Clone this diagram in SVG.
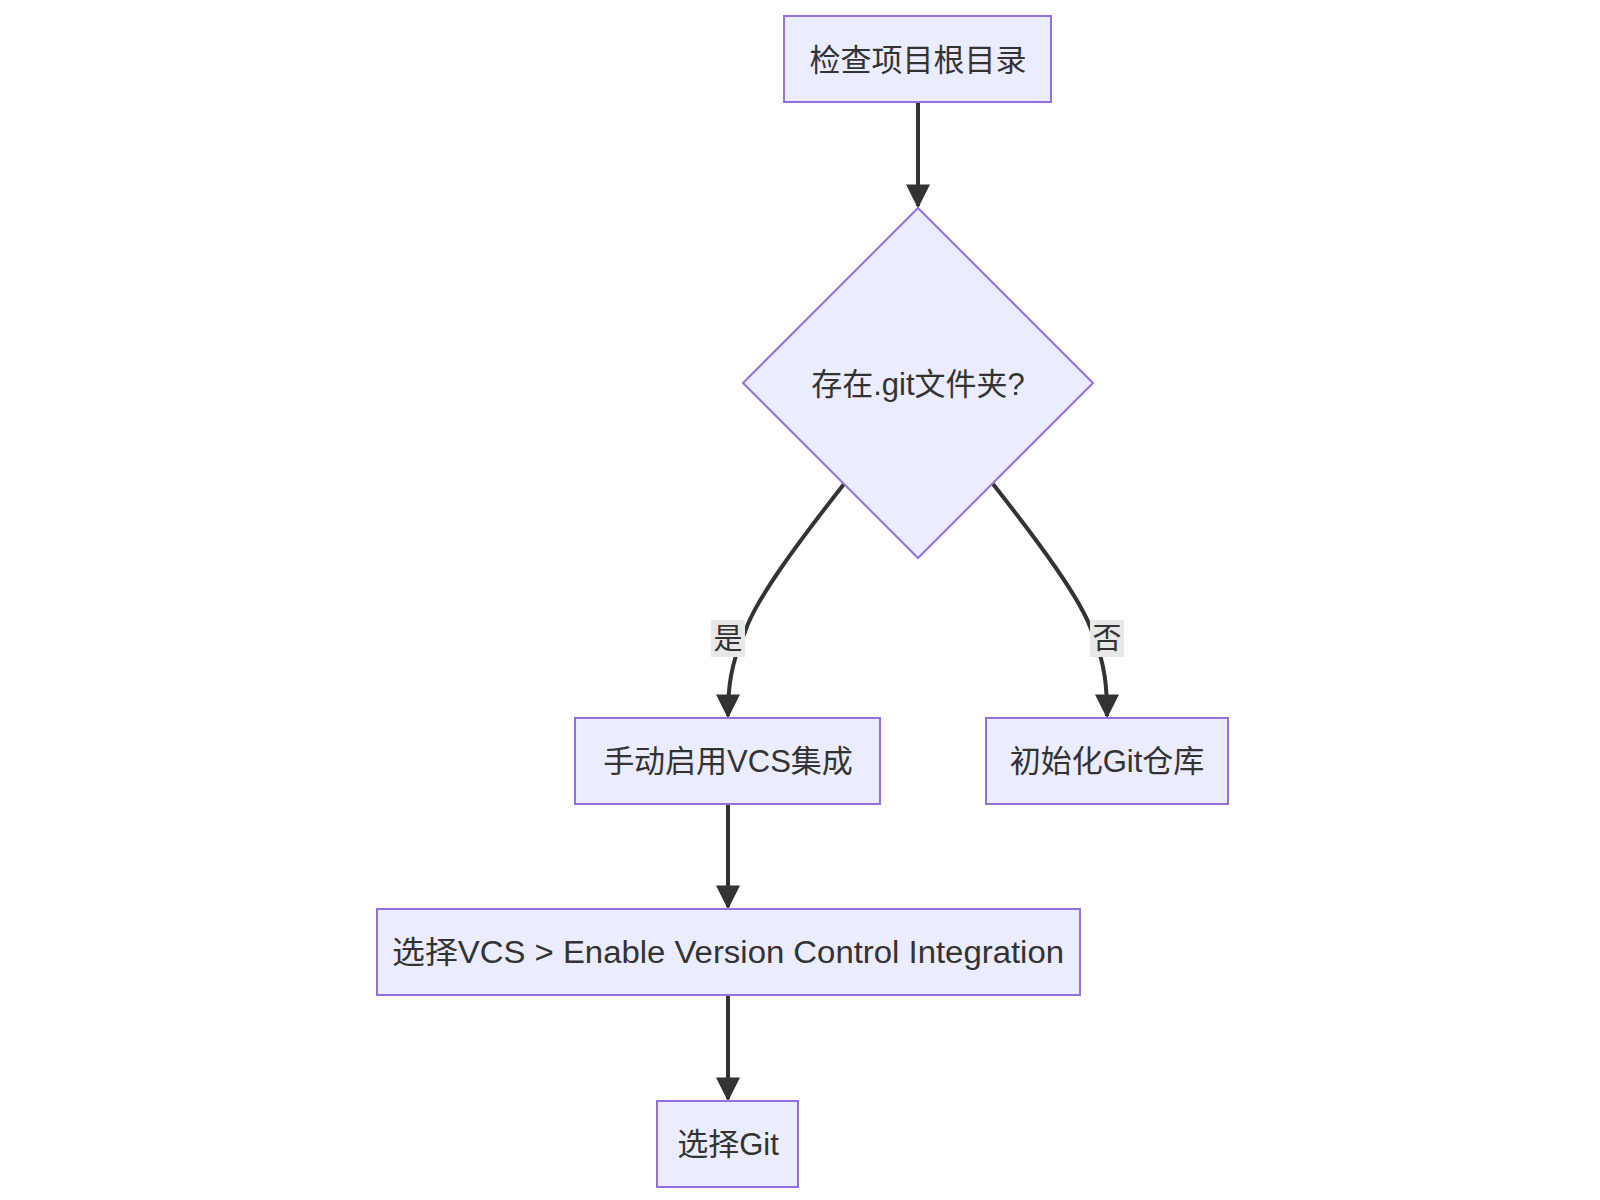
<svg xmlns="http://www.w3.org/2000/svg" width="1600" height="1200" viewBox="0 0 1600 1200">
<style>
.n{fill:#ECECFF;stroke:#9370DB;stroke-width:2}
.t{font-family:"Liberation Sans",Arial,"Noto Sans CJK SC",sans-serif;font-size:31px;fill:#333;text-anchor:middle;dominant-baseline:central}
.e{fill:none;stroke:#333;stroke-width:4}
.lb{fill:#e8e8e8}
</style>
<defs><marker id="a" viewBox="0 0 10 10" refX="9" refY="5" markerWidth="6" markerHeight="6" orient="auto"><path d="M0,0L10,5L0,10z" fill="#333"/></marker></defs>
<rect width="1600" height="1200" fill="#fff"/>
<g id="edges">
<path class="e" d="M918,102L918,206" marker-end="url(#a)"/>
<path class="e" d="M844,484C800,540 755,600 745,632C730,665 728,690 728,716" marker-end="url(#a)"/>
<path class="e" d="M993,484C1037,540 1082,600 1092,632C1106,665 1107,690 1107,716" marker-end="url(#a)"/>
<path class="e" d="M728,804L728,907" marker-end="url(#a)"/>
<path class="e" d="M728,995L728,1099" marker-end="url(#a)"/>
<rect class="lb" x="711" y="620" width="34" height="37"/><text class="t" x="728" y="639" style="font-size:29px">是</text>
<rect class="lb" x="1090" y="620" width="34" height="37"/><text class="t" x="1107" y="639" style="font-size:29px">否</text>
</g>
<g id="A"><rect class="n" x="784" y="16" width="267" height="86"/><text class="t" x="918" y="60">检查项目根目录</text></g>
<g id="B"><polygon class="n" points="918,208 1093,383 918,558 743,383"/><text class="t" x="918" y="384">存在.git文件夹?</text></g>
<g id="C"><rect class="n" x="575" y="718" width="305" height="86"/><text class="t" x="728" y="761">手动启用VCS集成</text></g>
<g id="D"><rect class="n" x="986" y="718" width="242" height="86"/><text class="t" x="1107" y="761">初始化Git仓库</text></g>
<g id="E"><rect class="n" x="377" y="909" width="703" height="86"/><text class="t" x="728" y="952" textLength="672" lengthAdjust="spacingAndGlyphs">选择VCS &gt; Enable Version Control Integration</text></g>
<g id="F"><rect class="n" x="657" y="1101" width="141" height="86"/><text class="t" x="728" y="1144">选择Git</text></g>
</svg>
